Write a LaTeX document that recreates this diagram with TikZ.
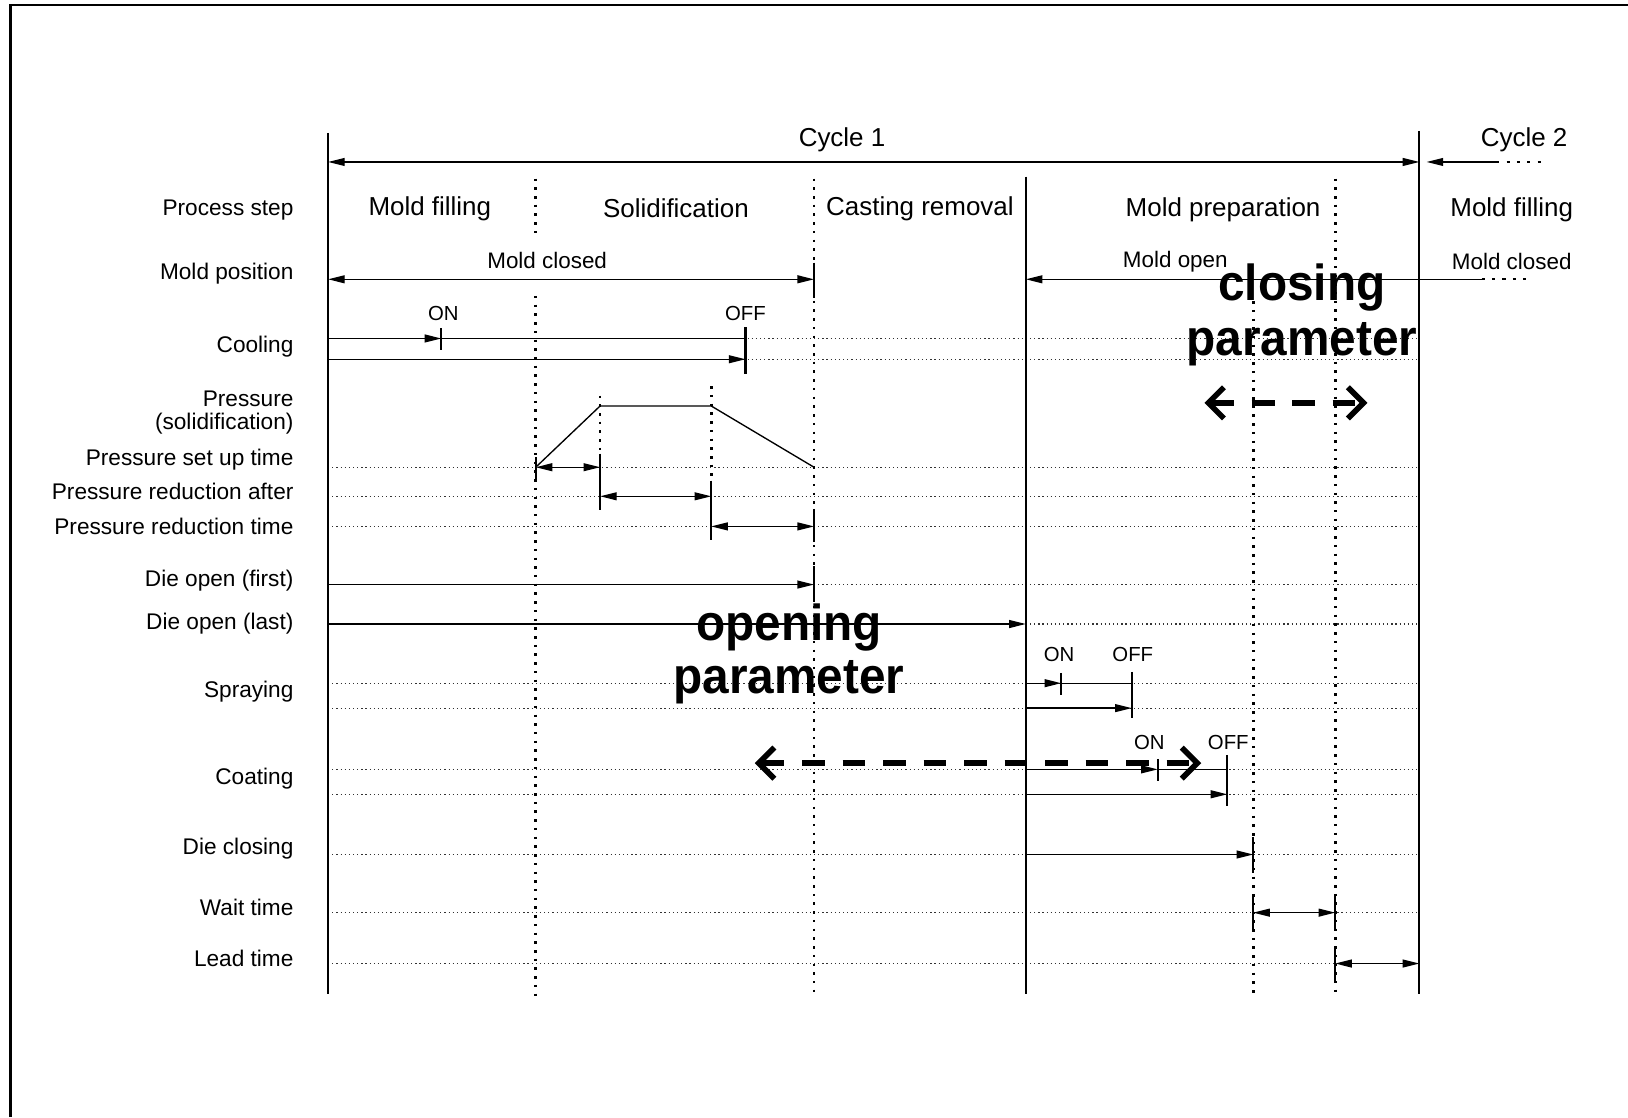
\documentclass[tikz,border=0pt]{standalone}
\usepackage{fontspec}
\setmainfont{Liberation Sans}
\usetikzlibrary{arrows.meta}

\begin{document}
\begin{tikzpicture}[x=0.5pt,y=-0.5pt,
  >={Triangle[length=8pt,width=3.8pt]},
  frame/.style={line width=1.1pt},
  axis/.style={line width=0.85pt},
  sig/.style={line width=0.65pt},
  tk/.style={line width=1.05pt},
  grid/.style={line width=0.5pt,black!80,dash pattern=on 0.6pt off 1.4pt},
  vdot/.style={line width=1.3pt,dash pattern=on 1.2pt off 3pt},
  trail/.style={line width=0.8pt,dash pattern=on 1.5pt off 3.5pt},
  bigdash/.style={line width=2.7pt,dash pattern=on 11pt off 8.5pt,
    {Straight Barb[length=7.5pt,width=15pt]}-{Straight Barb[length=7.5pt,width=15pt]}},
  lbl/.style={anchor=east,font=\fontsize{10.9}{11}\selectfont,align=right,inner sep=0pt},
  stepname/.style={font=\fontsize{12.5}{14}\selectfont,inner sep=0pt},
  state/.style={font=\fontsize{10.8}{12}\selectfont,inner sep=0pt},
  onoff/.style={font=\fontsize{9.8}{11}\selectfont,inner sep=0pt},
  big/.style={font=\fontsize{23}{26}\selectfont\bfseries,inner sep=0pt}]

\useasboundingbox (0,0) rectangle (1568,1076);

% outer frame (top and left edges)
\draw[frame] (10,1076) -- (10,5) -- (1568,5);

% time columns
\foreach \n/\v in {L/316,Fill/516,P1/578,P2/685,Rem/784,Prep/988,Close/1207,
                   Wait/1286,R/1367,CoolOn/425,CoolOff/718,SprOn/1022,SprOff/1090,
                   CoatOn/1115,CoatOff/1182}
  \coordinate (x\n) at (\v,0);
% signal rows and vertical extents
\foreach \n/\v in {Cyc/156,Mold/269,CoolA/326,CoolB/346,Ptop/391,Set/450,After/478,
                   Red/507,First/563,Last/601,SprA/658,SprB/682,CoatA/741,CoatB/765,
                   Die/823,Wt/879,Lead/928,
                   AxTop/128,RTop/126,PrepTop/170,AxBot/957,VTop/172,VBot/960,
                   GapA/229,GapB/285,CloseTop/290,PaTop/381,PbTop/372,PaBot/437,PbBot/463}
  \coordinate (y\n) at (0,\v);

% dotted grid rows
\foreach \r in {CoolA,CoolB,Set,After,Red,First,Last,SprA,SprB,CoatA,CoatB,Die,Wt,Lead}
  \draw[grid] (xL |- y\r) -- (xR |- y\r);

% dotted phase boundaries
\draw[vdot] (xFill |- yVTop) -- (xFill |- yGapA);
\draw[vdot] (xFill |- yGapB) -- (xFill |- yVBot);
\draw[vdot] (xRem |- yVTop) -- (xRem |- yVBot);
\draw[vdot] (xWait |- yVTop) -- (xWait |- yVBot);
\draw[vdot] (xClose |- yCloseTop) -- (xClose |- yVBot);
\draw[vdot] (xP1 |- yPaTop) -- (xP1 |- yPaBot);
\draw[vdot] (xP2 |- yPbTop) -- (xP2 |- yPbBot);

% solid boundaries
\draw[axis] (xL |- yAxTop) -- (xL |- yAxBot);
\draw[axis] (xPrep |- yPrepTop) -- (xPrep |- yAxBot);
\draw[line width=1.05pt] (xR |- yRTop) -- (xR |- yAxBot);

% cycles
\coordinate (c2s) at (1374,156);
\coordinate (c2e) at (1441,156);
\coordinate (c2d) at (1491,156);
\draw[sig,<->] (xL |- yCyc) -- (xR |- yCyc);
\draw[sig,<-] (c2s) -- (c2e);
\draw[trail] (c2e) -- (c2d);
\node[stepname] (cyc1) at (811,135) {Cycle 1};
\node[stepname] (cyc2) at (1468,135) {Cycle 2};

% process steps
\node[stepname] (s1) at (414,201) {Mold filling};
\node[stepname] (s2) at (651,201) {Solidification};
\node[stepname] (s3) at (886,201) {Casting removal};
\node[stepname] (s4) at (1178,202) {Mold preparation};
\node[stepname] (s5) at (1456,202) {Mold filling};

% mold position
\coordinate (mEnd) at (1427,269);
\coordinate (mDots) at (1470,269);
\draw[sig,<->] (xL |- yMold) -- (xRem |- yMold);
\draw[tk] (xRem |- yMold) ++(0,-16) -- ++(0,34);
\draw[sig,<-] (xPrep |- yMold) -- (mEnd);
\draw[trail] (mEnd) -- (mDots);
\node[state] (mc1) at (527,251) {Mold closed};
\node[state] (mo) at (1132,252) {Mold open};
\node[state] (mc2) at (1456,252) {Mold closed};

% cooling
\draw[sig,->] (xL |- yCoolA) -- (xCoolOn |- yCoolA);
\draw[sig] (xCoolOn |- yCoolA) -- (xCoolOff |- yCoolA);
\draw[sig,->] (xL |- yCoolB) -- (xCoolOff |- yCoolB);
\draw[tk] (xCoolOn |- yCoolA) ++(0,-10) -- ++(0,21);
\draw[tk] (xCoolOff |- yCoolA) ++(0,-11) -- ++(0,45);
\node[onoff] (coolon) at (427,302) {ON};
\node[onoff] (cooloff) at (718,302) {OFF};

% solidification pressure profile
\draw[sig] (xFill |- ySet) -- (xP1 |- yPtop) -- (xP2 |- yPtop) -- (xRem |- ySet);
\draw[sig,<->] (xFill |- ySet) -- (xP1 |- ySet);
\draw[tk] (xFill |- ySet) ++(0,-10) -- ++(0,22);
\draw[tk] (xP1 |- ySet) ++(0,-13) -- ++(0,54);
\draw[sig,<->] (xP1 |- yAfter) -- (xP2 |- yAfter);
\draw[tk] (xP2 |- yAfter) ++(0,-15) -- ++(0,57);
\draw[sig,<->] (xP2 |- yRed) -- (xRem |- yRed);
\draw[tk] (xRem |- yRed) ++(0,-17) -- ++(0,32);

% die opening
\draw[sig,->] (xL |- yFirst) -- (xRem |- yFirst);
\draw[tk] (xRem |- yFirst) ++(0,-18) -- ++(0,35);
\draw[sig,->] (xL |- yLast) -- (xPrep |- yLast);

% spraying
\draw[sig,->] (xPrep |- ySprA) -- (xSprOn |- ySprA);
\draw[sig] (xSprOn |- ySprA) -- (xSprOff |- ySprA);
\draw[sig,->] (xPrep |- ySprB) -- (xSprOff |- ySprB);
\draw[tk] (xSprOn |- ySprA) ++(0,-10) -- ++(0,21);
\draw[tk] (xSprOff |- ySprA) ++(0,-11) -- ++(0,45);
\node[onoff] (spron) at (1020,630) {ON};
\node[onoff] (sproff) at (1091,630) {OFF};

% coating
\draw[sig,->] (xPrep |- yCoatA) -- (xCoatOn |- yCoatA);
\draw[sig] (xCoatOn |- yCoatA) -- (xCoatOff |- yCoatA);
\draw[sig,->] (xPrep |- yCoatB) -- (xCoatOff |- yCoatB);
\draw[tk] (xCoatOn |- yCoatA) ++(0,-10) -- ++(0,21);
\draw[tk] (xCoatOff |- yCoatA) ++(0,-14) -- ++(0,49);
\node[onoff] (coaton) at (1107,715) {ON};
\node[onoff] (coatoff) at (1183,715) {OFF};

% die closing, wait and lead times
\draw[sig,->] (xPrep |- yDie) -- (xClose |- yDie);
\draw[tk] (xClose |- yDie) ++(0,-17) -- ++(0,35);
\draw[sig,<->] (xClose |- yWt) -- (xWait |- yWt);
\draw[tk] (xClose |- yWt) ++(0,-17) -- ++(0,35);
\draw[tk] (xWait |- yWt) ++(0,-17) -- ++(0,35);
\draw[sig,<->] (xWait |- yLead) -- (xR |- yLead);
\draw[tk] (xWait |- yLead) ++(0,-17) -- ++(0,35);

% row labels
\node[lbl] (lStep) at (283,202) {Process step};
\node[lbl] (lMold) at (283,264) {Mold position};
\node[lbl] (lCool) at (283,334) {Cooling};
\node[lbl] (lPres) at (283,397) {Pressure\\(solidification)};
\node[lbl] (lSet) at (283,443) {Pressure set up time};
\node[lbl] (lAfter) at (283,473) {Pressure reduction after};
\node[lbl] (lRed) at (283,507) {Pressure reduction time};
\node[lbl] (lFirst) at (283,559) {Die open (first)};
\node[lbl] (lLast) at (283,601) {Die open (last)};
\node[lbl] (lSpr) at (283,666) {Spraying};
\node[lbl] (lCoat) at (283,750) {Coating};
\node[lbl] (lDie) at (283,817) {Die closing};
\node[lbl] (lWait) at (283,874) {Wait time};
\node[lbl] (lLead) at (283,923) {Lead time};

% parameter ranges
\node[big] (op1) at (760,604) {\scalebox{1}[1.06]{opening}};
\node[big] (op2) at (760,657) {\scalebox{1}[1.06]{parameter}};
\node[big] (cl1) at (1254,277) {\scalebox{1}[1.06]{closing}};
\node[big] (cl2) at (1254,332) {\scalebox{1}[1.06]{parameter}};
\coordinate (oa) at (727,735);
\coordinate (ob) at (1157,735);
\coordinate (ca) at (1160,388);
\coordinate (cb) at (1317,388);
\draw[bigdash] (oa) -- (ob);
\draw[bigdash] (ca) -- (cb);

\end{tikzpicture}
\end{document}
